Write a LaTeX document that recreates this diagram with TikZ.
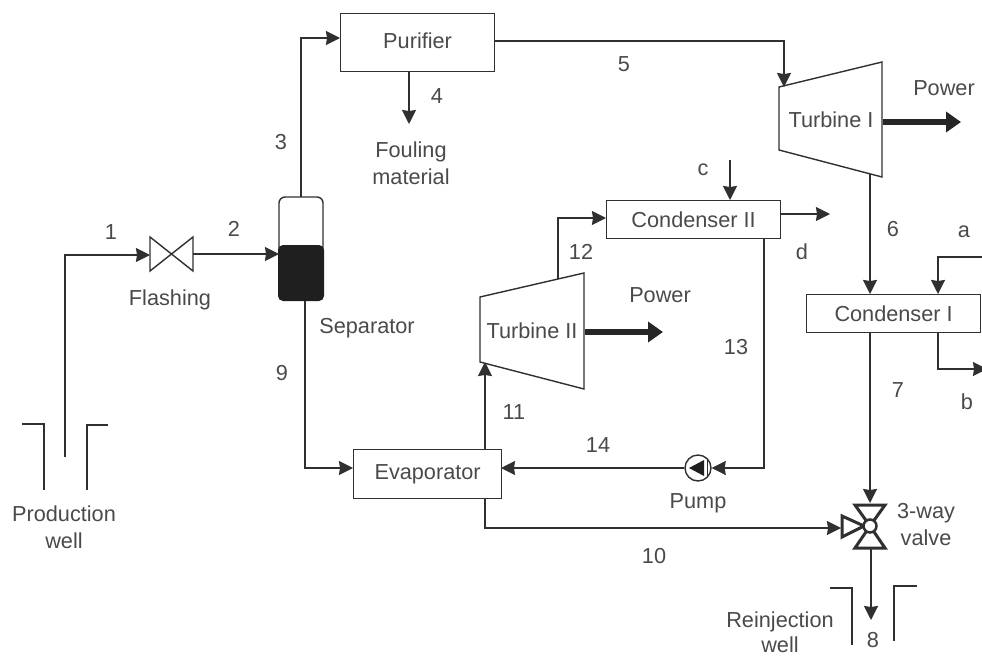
\documentclass[tikz,border=0pt]{standalone}
\usepackage{fontspec}
\setmainfont{Liberation Sans}
\usetikzlibrary{arrows.meta,calc}
\definecolor{ln}{HTML}{303030}
\definecolor{tx}{HTML}{4A4A4A}
\tikzset{
  x=1pt,y=-1pt,
  pipe/.style={draw=ln,line width=1.7pt},
  flow/.style={pipe,-{Stealth[length=14pt,width=14pt,inset=1pt]}},
  powerflow/.style={draw=black!85,line width=6pt,-{Triangle[length=15pt,width=20pt]}},
  unitbox/.style={draw=ln,line width=1.2pt,fill=white,text=tx,font=\fontsize{21.7}{24}\selectfont,inner sep=0pt,anchor=north west},
  lbl/.style={text=tx,font=\fontsize{21.7}{24}\selectfont,inner sep=0pt,align=center},
  shell/.style={draw=ln,line width=1.4pt,fill=white,line join=miter},
  wall/.style={draw=ln,line width=1.1pt},
  point/.style={inner sep=0pt,minimum size=0pt}
}
\begin{document}
\begin{tikzpicture}
\useasboundingbox (0,0) rectangle (982,656);
\fill[white] (0,0) rectangle (982,656);

% Boxes
\node[unitbox,minimum width=154pt,minimum height=58pt] (pur) at (340,13) {\raisebox{4pt}{Purifier}};
\node[unitbox,minimum width=174pt,minimum height=38pt] (cond2) at (606,200) {Condenser II};
\node[unitbox,minimum width=174pt,minimum height=38pt] (cond1) at (806,294) {Condenser I};
\node[unitbox,minimum width=148pt,minimum height=49pt] (evap) at (353,449) {Evaporator};

% Turbines
\draw[shell] (779,87) -- (882,62) -- (882,177) -- (779,150) -- cycle;
\node[lbl] (t1) at (831,120) {Turbine I};
\draw[shell] (480,297) -- (584,273) -- (584,389) -- (480,362) -- cycle;
\node[lbl] (t2) at (532,331) {Turbine II};

% Separator
\draw[shell,rounded corners=6pt] (279,250) -- (279,197) -- (323,197) -- (323,250);
\fill[black!88,rounded corners=5pt] (278,245) rectangle (324,301);
\coordinate (sepT) at (301,197);
\coordinate (sepL) at (279,254);
\coordinate (sepB) at (305,301);

% Flash valve
\draw[shell] (150,237) -- (193,271) -- (193,237) -- (150,271) -- cycle;
\coordinate (fvL) at (150,255);
\coordinate (fvR) at (193,254);

% Pump
\node[circle,draw=ln,line width=1.4pt,fill=white,minimum size=26pt,inner sep=0pt] (pump) at (698,468) {};
\fill[black!88] (689,468) -- (704,460) -- (704,476) -- cycle;
\draw[ln,line width=1pt] (707,460) -- (707,476);

% 3-way valve
\draw[draw=ln,line width=3pt,fill=white,line join=miter] (855,505) -- (885,505) -- (870,526) -- cycle;
\draw[draw=ln,line width=3pt,fill=white,line join=miter] (855,548) -- (885,548) -- (870,526) -- cycle;
\draw[draw=ln,line width=3pt,fill=white,line join=miter] (842,516) -- (842,537) -- (864,526) -- cycle;
\node[circle,draw=ln,line width=2.5pt,fill=white,minimum size=13pt,inner sep=0pt] (v3) at (870,526) {};
\coordinate (v3T) at (870,503);
\coordinate (v3L) at (841,528);
\coordinate (v3B) at (871,549);

% Free ends and bends
\coordinate (w1) at (65,457);
\coordinate (w1b) at (65,255);
\coordinate (b3) at (301,38);
\coordinate (p3) at (340,38);
\coordinate (p4) at (409,71);
\coordinate (e4) at (409,124);
\coordinate (p5) at (494,41);
\coordinate (b5) at (784,41);
\coordinate (t1in) at (784,87);
\coordinate (t1out) at (870,174);
\coordinate (c1in) at (870,294);
\coordinate (c1out) at (870,332);
\coordinate (a0) at (982,257);
\coordinate (a1) at (938,257);
\coordinate (a2) at (938,294);
\coordinate (b0) at (938,332);
\coordinate (b1) at (938,369);
\coordinate (b2) at (987,369);
\coordinate (s9) at (305,468);
\coordinate (ev9) at (353,468);
\coordinate (e10) at (485,498);
\coordinate (b10) at (485,528);
\coordinate (e11) at (485,449);
\coordinate (t2in) at (485,362);
\coordinate (t2o) at (558,279);
\coordinate (b12) at (558,218);
\coordinate (c12) at (606,218);
\coordinate (c0) at (730,160);
\coordinate (c1) at (730,200);
\coordinate (d0) at (780,214);
\coordinate (d1) at (830,214);
\coordinate (c13) at (764,238);
\coordinate (b13) at (764,468);
\coordinate (e14) at (501,468);
\coordinate (e8) at (871,620);
\coordinate (pw1a) at (883,122);
\coordinate (pw1b) at (961,122);
\coordinate (pw2a) at (585,332);
\coordinate (pw2b) at (663,332);

% Connectors
\draw[flow] (w1) -- (w1b) -- (fvL);
\draw[flow] (fvR) -- (sepL);
\draw[flow] (sepT) -- (b3) -- (p3);
\draw[flow] (p4) -- (e4);
\draw[flow] (p5) -- (b5) -- (t1in);
\draw[flow] (t1out) -- (c1in);
\draw[flow] (a0) -- (a1) -- (a2);
\draw[flow] (b0) -- (b1) -- (b2);
\draw[flow] (c1out) -- (v3T);
\draw[flow] (sepB) -- (s9) -- (ev9);
\draw[flow] (e10) -- (b10) -- (v3L);
\draw[flow] (e11) -- (t2in);
\draw[flow] (t2o) -- (b12) -- (c12);
\draw[flow] (c0) -- (c1);
\draw[flow] (d0) -- (d1);
\draw[flow] (c13) -- (b13) -- (pump.east);
\draw[flow] (pump.west) -- (e14);
\draw[flow] (v3B) -- (e8);
\draw[powerflow] (pw1a) -- (pw1b);
\draw[powerflow] (pw2a) -- (pw2b);

% Wells
\draw[wall] (22,424) -- (44,424) -- (44,490);
\draw[wall] (108,425) -- (87,425) -- (87,490);
\draw[wall] (830,588) -- (852,588) -- (852,645);
\draw[wall] (917,586) -- (894,586) -- (894,641);

% Labels
\node[lbl] (n1) at (111,232) {1};
\node[lbl] (n2) at (234,229) {2};
\node[lbl] (n3) at (281,142) {3};
\node[lbl] (n4) at (437,96) {4};
\node[lbl] (n5) at (624,64) {5};
\node[lbl] (n6) at (893,229) {6};
\node[lbl] (n7) at (898,390) {7};
\node[lbl] (n8) at (873,640) {8};
\node[lbl] (n9) at (282,373) {9};
\node[lbl] (n10) at (654,556) {10};
\node[lbl] (n11) at (514,412) {11};
\node[lbl] (n12) at (581,252) {12};
\node[lbl] (n13) at (736,347) {13};
\node[lbl] (n14) at (598,445) {14};
\node[lbl] (la) at (964,232) {a};
\node[lbl] (lb) at (967,402) {b};
\node[lbl] (lc) at (703,170) {c};
\node[lbl] (ld) at (802,252) {d};
\node[lbl] (flash) at (170,300) {Flashing};
\node[lbl] (sep) at (367,328) {Separator};
\node[lbl,text width=120pt] (pwell) at (64,527) {Production\\[3pt]well};
\node[lbl,text width=120pt] (foul) at (411,163) {Fouling\\[3pt]material};
\node[lbl] (pow1) at (944,88) {Power};
\node[lbl] (pow2) at (660,295) {Power};
\node[lbl] (pmp) at (698,503) {Pump};
\node[lbl,text width=80pt] (v3l) at (926,525) {3-way\\[3pt]valve};
\node[lbl,text width=120pt] (rwell) at (780,632) {Reinjection\\[1pt]well};
\end{tikzpicture}
\end{document}
